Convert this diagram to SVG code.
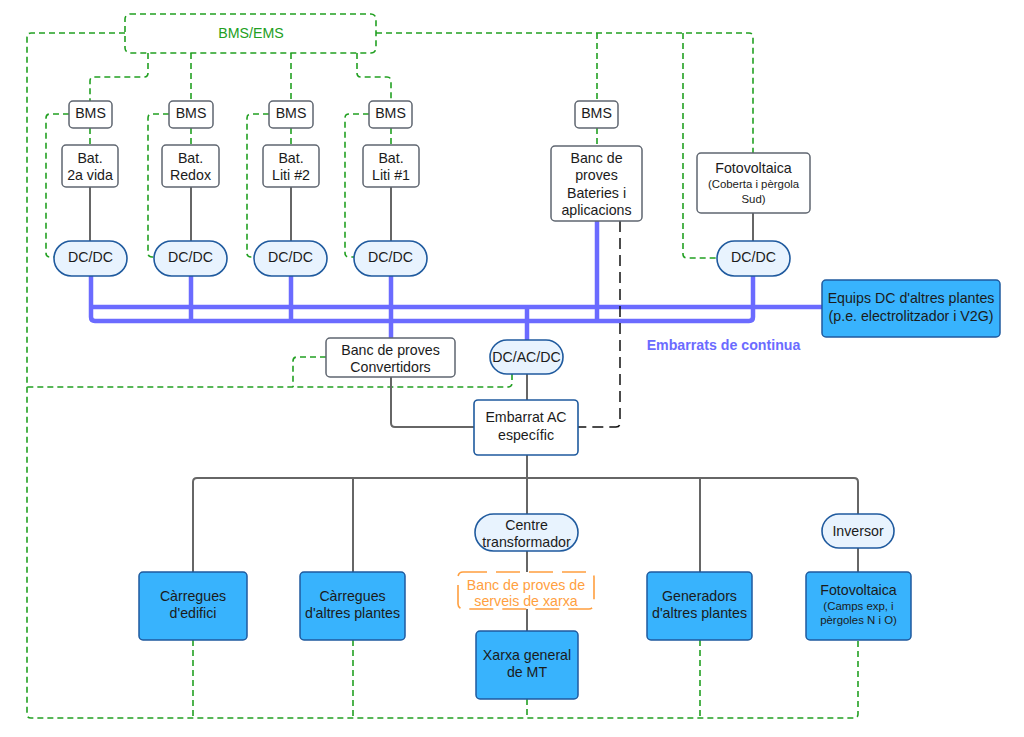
<svg xmlns="http://www.w3.org/2000/svg" width="1024" height="737" viewBox="0 0 1024 737">
<style>
.box{fill:#fff;stroke:#5f6670;stroke-width:1.5}
.conv{fill:#e8f3fe;stroke:#1f5a9e;stroke-width:1.6}
.blue{fill:#38b3fd;stroke:#1f5a9e;stroke-width:1.5}
.ac{fill:#fff;stroke:#1f5a9e;stroke-width:1.6}
.t{font-family:"Liberation Sans",Arial,sans-serif;font-size:14.2px;fill:#1b1b1b;text-anchor:middle}
.s{font-size:11.4px}
.gt{fill:#22a022}
.ot{fill:#ff9f3f}
.g{fill:none;stroke:#22a022;stroke-width:1.6;stroke-dasharray:6 4}
.w{fill:none;stroke:#666;stroke-width:2}
.bus{fill:none;stroke:#6b6bff;stroke-width:4.5;stroke-linejoin:round}
.k{fill:none;stroke:#111;stroke-width:1.5;stroke-dasharray:11 6}
.ob{fill:#fff;stroke:#ff9f3f;stroke-width:1.6;stroke-dasharray:24 9}
</style>
<rect width="1024" height="737" fill="#fff"/>
<g id="connectors">
  <path class="g" d="M125,33 H31 Q27,33 27,37 V714 Q27,718 31,718 H854 Q858,718 858,714 V640"/>
  <path class="g" d="M376,33 H749 Q753,33 753,37 V153"/>
  <path class="g" d="M597,33 V101"/>
  <path class="g" d="M683,33 V254 Q683,258 687,258 H717"/>
  <path class="g" d="M148,53 V73 Q148,77 144,77 H94 Q90,77 90,81 V101"/>
  <path class="g" d="M191,53 V101"/>
  <path class="g" d="M291,53 V101"/>
  <path class="g" d="M357,53 V73 Q357,77 361,77 H387 Q391,77 391,81 V101"/>
  <path class="g" d="M90,128 V145 M191,128 V145 M291,128 V145 M391,128 V145 M597,128 V146"/>
  <path class="g" d="M69,114 H50 Q46,114 46,118 V253 Q46,257 50,257 H54"/>
  <path class="g" d="M169,114 H152 Q148,114 148,118 V253 Q148,257 152,257 H154"/>
  <path class="g" d="M269,114 H251 Q247,114 247,118 V253 Q247,257 251,257 H254"/>
  <path class="g" d="M369,114 H349 Q345,114 345,118 V253 Q345,257 349,257 H354"/>
  <path class="g" d="M326,357 H297 Q293,357 293,361 V387"/>
  <path class="g" d="M512,374 V383 Q512,387 508,387 H27"/>
  <path class="g" d="M193,640 V718 M353,640 V718 M527,699 V718 M700,640 V718"/>
  <path class="w" d="M90,187 V241 M191,187 V241 M291,187 V241 M391,187 V241 M753,213 V241"/>
  <path class="w" d="M391,377 V423 Q391,427 395,427 H474"/>
  <path class="w" d="M527,374 V400 M527,455 V478"/>
  <path class="w" d="M193,572 V482 Q193,478 197,478 H854 Q858,478 858,482 V514"/>
  <path class="w" d="M353,478 V572 M527,478 V514 M700,478 V572"/>
  <path class="w" d="M527,551 V572 M527,609 V631 M858,548 V572"/>
  <path class="bus" d="M91,276 V317 Q91,321 95,321 H749 Q753,321 753,317 V276"/>
  <path class="bus" d="M91,307 H822"/>
  <path class="bus" d="M191,276 V321 M291,276 V321 M391,276 V338 M597,221 V321 M527,307 V340"/>
  <path class="k" d="M620,221 V423 Q620,427 616,427 H578"/>
</g>
<g id="bms-ems"><rect x="125" y="14" width="251" height="39" rx="5" fill="#fff" stroke="#22a022" stroke-width="1.6" stroke-dasharray="6 4"/><text class="t gt" x="251" y="38">BMS/EMS</text></g>
<g id="bms1"><rect class="box" x="69" y="101" width="43" height="27" rx="4"/><text class="t" x="90.5" y="118">BMS</text></g>
<g id="bms2"><rect class="box" x="169" y="101" width="44" height="27" rx="4"/><text class="t" x="191" y="118">BMS</text></g>
<g id="bms3"><rect class="box" x="269" y="101" width="44" height="27" rx="4"/><text class="t" x="291" y="118">BMS</text></g>
<g id="bms4"><rect class="box" x="369" y="101" width="43" height="27" rx="4"/><text class="t" x="390.5" y="118">BMS</text></g>
<g id="bms5"><rect class="box" x="575" y="101" width="43" height="27" rx="4"/><text class="t" x="596.5" y="118">BMS</text></g>
<g id="bat1"><rect class="box" x="62" y="145" width="56" height="42" rx="4"/><text class="t" x="90" y="163">Bat.</text><text class="t" x="90" y="180">2a vida</text></g>
<g id="bat2"><rect class="box" x="162" y="145" width="57" height="42" rx="4"/><text class="t" x="190.5" y="163">Bat.</text><text class="t" x="190.5" y="180">Redox</text></g>
<g id="bat3"><rect class="box" x="263" y="145" width="56" height="42" rx="4"/><text class="t" x="291" y="163">Bat.</text><text class="t" x="291" y="180">Liti #2</text></g>
<g id="bat4"><rect class="box" x="363" y="145" width="56" height="42" rx="4"/><text class="t" x="391" y="163">Bat.</text><text class="t" x="391" y="180">Liti #1</text></g>
<g id="dcdc1"><rect class="conv" x="54" y="241" width="73" height="35" rx="17.5"/><text class="t" x="90.5" y="262">DC/DC</text></g>
<g id="dcdc2"><rect class="conv" x="154" y="241" width="73" height="35" rx="17.5"/><text class="t" x="190.5" y="262">DC/DC</text></g>
<g id="dcdc3"><rect class="conv" x="254" y="241" width="73" height="35" rx="17.5"/><text class="t" x="290.5" y="262">DC/DC</text></g>
<g id="dcdc4"><rect class="conv" x="354" y="241" width="73" height="35" rx="17.5"/><text class="t" x="390.5" y="262">DC/DC</text></g>
<g id="banc-bateries"><rect class="box" x="551" y="146" width="91" height="75" rx="4"/><text class="t" x="596.5" y="163">Banc de</text><text class="t" x="596.5" y="180">proves</text><text class="t" x="596.5" y="198">Bateries i</text><text class="t" x="596.5" y="215">aplicacions</text></g>
<g id="fv-sud"><rect class="box" x="697" y="153" width="113" height="60" rx="4"/><text class="t" x="753.5" y="173">Fotovoltaica</text><text class="t s" x="753.5" y="188">(Coberta i pèrgola</text><text class="t s" x="753.5" y="203">Sud)</text></g>
<g id="dcdc-pv"><rect class="conv" x="717" y="241" width="73" height="35" rx="17.5"/><text class="t" x="753.5" y="262">DC/DC</text></g>
<g id="equips-dc"><rect class="blue" x="822" y="280" width="178" height="57" rx="4"/><text class="t" x="911" y="303">Equips DC d'altres plantes</text><text class="t" x="911" y="321">(p.e. electrolitzador i V2G)</text></g>
<text class="t" x="723.5" y="350" style="fill:#6b6bff;font-weight:bold">Embarrats de continua</text>
<g id="banc-convertidors"><rect class="box" x="326" y="338" width="129" height="39" rx="4"/><text class="t" x="390.5" y="355">Banc de proves</text><text class="t" x="390.5" y="372">Convertidors</text></g>
<g id="dcacdc"><rect class="conv" x="490" y="340" width="73" height="34" rx="17"/><text class="t" x="526.5" y="362">DC/AC/DC</text></g>
<g id="embarrat-ac"><rect class="ac" x="474" y="400" width="104" height="55" rx="4"/><text class="t" x="526" y="422">Embarrat AC</text><text class="t" x="526" y="440">específic</text></g>
<g id="centre-transformador"><rect class="conv" x="475" y="514" width="103" height="37" rx="18.5"/><text class="t" x="526.5" y="530">Centre</text><text class="t" x="526.5" y="547">transformador</text></g>
<g id="banc-serveis"><rect class="ob" x="458" y="572" width="136" height="37" rx="5"/><text class="t ot" x="526" y="590">Banc de proves de</text><text class="t ot" x="526" y="606">serveis de xarxa</text></g>
<g id="xarxa-mt"><rect class="blue" x="476" y="631" width="102" height="68" rx="4"/><text class="t" x="527" y="660">Xarxa general</text><text class="t" x="527" y="677">de MT</text></g>
<g id="carregues-edifici"><rect class="blue" x="139" y="572" width="108" height="68" rx="4"/><text class="t" x="193" y="601">Càrregues</text><text class="t" x="193" y="618">d'edifici</text></g>
<g id="carregues-altres"><rect class="blue" x="300" y="572" width="105" height="68" rx="4"/><text class="t" x="352.5" y="601">Càrregues</text><text class="t" x="352.5" y="618">d'altres plantes</text></g>
<g id="generadors"><rect class="blue" x="647" y="572" width="105" height="68" rx="4"/><text class="t" x="699.5" y="601">Generadors</text><text class="t" x="699.5" y="618">d'altres plantes</text></g>
<g id="inversor"><rect class="conv" x="822" y="514" width="72" height="34" rx="17"/><text class="t" x="858" y="536">Inversor</text></g>
<g id="fv-camps"><rect class="blue" x="806" y="572" width="105" height="68" rx="4"/><text class="t" x="858.5" y="595">Fotovoltaica</text><text class="t s" x="858.5" y="610">(Camps exp, i</text><text class="t s" x="858.5" y="624">pèrgoles N i O)</text></g>
</svg>
